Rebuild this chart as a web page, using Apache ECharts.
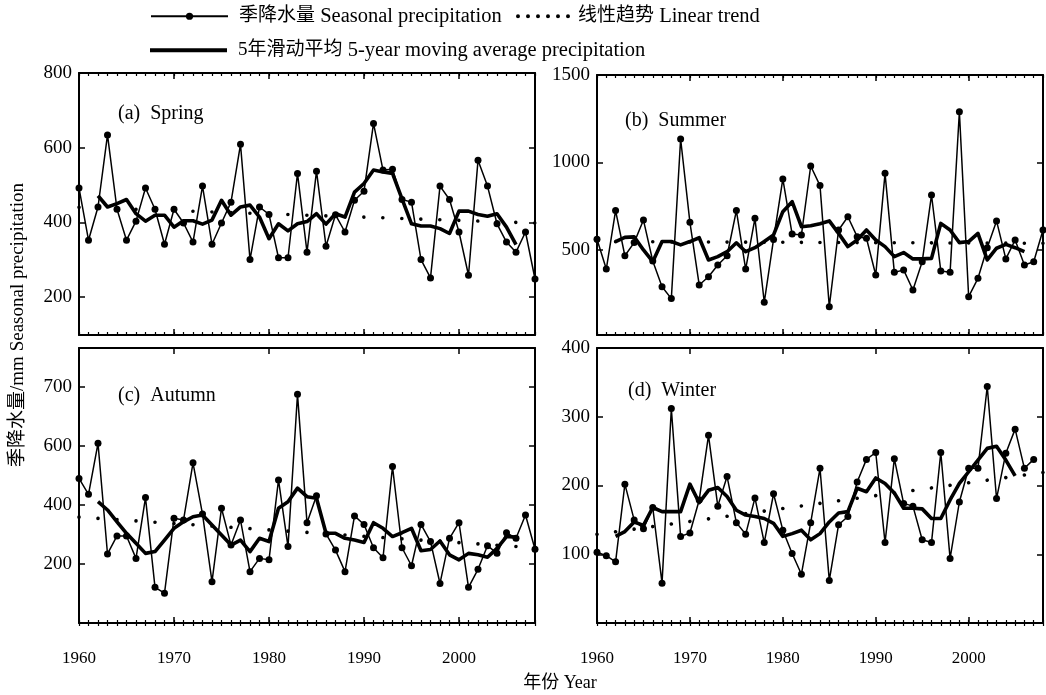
<!DOCTYPE html>
<html><head><meta charset="utf-8">
<script src="https://cdn.jsdelivr.net/npm/echarts@6/dist/echarts.min.js"></script>
<style>html,body{margin:0;padding:0;background:#fff}#c{width:1046px;height:695px}</style>
</head><body><div id="c"></div>
<script>
// ---------- data ----------
const years = [1960,1961,1962,1963,1964,1965,1966,1967,1968,1969,
               1970,1971,1972,1973,1974,1975,1976,1977,1978,1979,
               1980,1981,1982,1983,1984,1985,1986,1987,1988,1989,
               1990,1991,1992,1993,1994,1995,1996,1997,1998,1999,
               2000,2001,2002,2003,2004,2005,2006,2007,2008];
const maYears = years.slice(2, 47);          // 1962-2006
const maYearsWinter = years.slice(2, 46);    // 1962-2005

const springP = [492,352,441,634,435,352,403,492,435,341,
                 435,398,347,497,341,398,454,609,300,441,
                 421,305,305,531,320,537,336,420,374,459,
                 483,665,540,542,461,454,300,251,497,461,
                 374,258,566,497,396,347,320,374,248];
const summerP = [561,391,725,467,542,671,437,290,222,1134,
                 658,300,347,414,467,725,391,681,201,560,
                 906,591,586,980,868,176,614,690,576,567,
                 357,938,372,386,271,433,814,380,372,1290,
                 233,338,513,666,449,557,414,433,614];
const autumnP = [490,436,609,234,295,295,219,425,121,101,
                 355,349,543,369,140,389,264,349,174,219,
                 214,485,259,775,340,431,302,247,174,363,
                 334,255,221,530,255,194,334,276,134,287,
                 340,121,182,262,236,306,287,366,250];
const winterP = [103,98,89,202,150,137,168,58,312,126,
                 131,179,273,170,213,146,129,182,117,188,
                 135,101,71,146,225,62,143,155,205,238,
                 248,117,239,174,170,121,117,248,94,176,
                 225,225,344,181,247,282,225,238];

const springMA = [471,441,450,461,423,403,419,419,387,404,
                  404,395,406,459,419,441,446,414,356,396,
                  377,396,402,423,395,423,414,481,504,540,
                  535,531,463,396,390,390,383,370,430,430,
                  421,416,423,387,340];
const summerMA = [548,572,575,500,433,548,548,529,548,570,
                  443,462,490,541,490,513,548,586,719,776,
                  633,638,650,666,595,519,557,614,557,519,
                  462,485,449,449,452,652,614,542,548,595,
                  443,510,532,513,490];
const autumnMA = [411,383,343,304,270,236,242,281,321,343,
                  360,366,332,298,264,281,242,287,276,389,
                  411,457,428,423,304,304,287,281,273,340,
                  321,293,306,321,245,249,278,231,214,236,
                  231,223,253,293,291];
const winterMA = [126,133,147,142,168,162,162,162,202,175,
                  193,197,184,164,157,155,152,145,126,130,
                  135,121,130,147,160,162,196,191,211,203,
                  189,167,167,166,152,152,179,203,220,237,
                  254,257,237,214];

// linear trend end points [year, value]
const springTrend = [[1960,440],[2008,398]];
const summerTrend = [[1960,548],[2008,538]];
const autumnTrend = [[1960,359],[2008,255]];
const winterTrend = [[1960,129],[2008,219]];

const panelTitles = ['(a)  Spring','(b)  Summer','(c)  Autumn','(d)  Winter'];
const yTickValues = [[200,400,600,800],[500,1000,1500],[200,400,600,800],[100,200,300,400]];
const yTickLabels = [['200','400','600','800'],['500','1000','1500'],['200','400','600','700'],['100','200','300','400']];
const xTickLabels = ['1960','1970','1980','1990','2000'];

const nameP = '季降水量 Seasonal precipitation';
const nameT = '线性趋势 Linear trend';
const nameM = '5年滑动平均 5-year moving average precipitation';

// ---------- layout ----------
const FONT = '"Liberation Serif","Noto Sans CJK SC",serif';
const grids = [
  {left:79, top:73, width:456, height:262},
  {left:597, top:75, width:446, height:260},
  {left:79, top:348, width:456, height:275},
  {left:597, top:348, width:446, height:275}
];
const yRanges = [[98,800],[14,1500],[0,932],[0,400]];
const trendGap = [19.0, 18.58, 19.04, 18.76];

const panels = [
  {p:springP, m:springMA, my:maYears, t:springTrend},
  {p:summerP, m:summerMA, my:maYears, t:summerTrend},
  {p:autumnP, m:autumnMA, my:maYears, t:autumnTrend},
  {p:winterP, m:winterMA, my:maYearsWinter, t:winterTrend}
];

const xAxes = [], yAxes = [], series = [];
grids.forEach((g, gi) => {
  const showX = gi >= 2;
  const base = {gridIndex: gi, type: 'value', min: 1960, max: 2008, splitLine: {show: false}};
  xAxes.push(Object.assign({}, base, {
    position: 'bottom', interval: 10,
    axisLine: {show: true, onZero: false, lineStyle: {color: '#000', width: 2}},
    axisTick: {show: true, inside: true, length: 6, lineStyle: {color: '#000', width: 1.5}},
    axisLabel: {show: showX, margin: 27, color: '#000', fontFamily: FONT, fontSize: 17,
      formatter: v => xTickLabels.indexOf(String(v)) >= 0 ? String(v) : ''}
  }));
  xAxes.push(Object.assign({}, base, {
    position: 'bottom', interval: 1,
    axisLine: {show: false},
    axisTick: {show: true, inside: true, length: 3, lineStyle: {color: '#000', width: 1.2}},
    axisLabel: {show: false}
  }));
  xAxes.push(Object.assign({}, base, {
    position: 'top', interval: 10,
    axisLine: {show: true, onZero: false, lineStyle: {color: '#000', width: 2}},
    axisTick: {show: true, inside: true, length: 6, lineStyle: {color: '#000', width: 1.5}},
    axisLabel: {show: false}
  }));
  xAxes.push(Object.assign({}, base, {
    position: 'top', interval: 1,
    axisLine: {show: false},
    axisTick: {show: true, inside: true, length: 3, lineStyle: {color: '#000', width: 1.2}},
    axisLabel: {show: false}
  }));
  const ybase = {gridIndex: gi, type: 'value', min: yRanges[gi][0], max: yRanges[gi][1], splitLine: {show: false}};
  yAxes.push(Object.assign({}, ybase, {
    position: 'left',
    axisLine: {show: true, onZero: false, lineStyle: {color: '#000', width: 2}},
    axisTick: {show: true, inside: true, length: 6, customValues: yTickValues[gi], lineStyle: {color: '#000', width: 1.5}},
    axisLabel: {show: true, margin: 7, color: '#000', fontFamily: FONT, fontSize: 19,
      customValues: yTickValues[gi],
      formatter: v => { const k = yTickValues[gi].indexOf(v); return k >= 0 ? yTickLabels[gi][k] : ''; }}
  }));
  yAxes.push(Object.assign({}, ybase, {
    position: 'right',
    axisLine: {show: true, onZero: false, lineStyle: {color: '#000', width: 2}},
    axisTick: {show: true, inside: true, length: 6, customValues: yTickValues[gi], lineStyle: {color: '#000', width: 1.5}},
    axisLabel: {show: false}
  }));

  const P = panels[gi];
  const xi = gi * 4, yi = gi * 2;
  series.push({
    name: nameT, type: 'line', xAxisIndex: xi, yAxisIndex: yi,
    data: P.t, symbol: 'none', silent: true, z: 2,
    lineStyle: {color: '#000', width: 3.6, type: [0.01, trendGap[gi] - 0.01], cap: 'round'},
    itemStyle: {color: '#000'}
  });
  series.push({
    name: nameM, type: 'line', xAxisIndex: xi, yAxisIndex: yi,
    data: P.my.map((y, i) => [y, P.m[i]]), symbol: 'none', z: 3,
    lineStyle: {color: '#000', width: 3.6, join: 'round'},
    itemStyle: {color: '#000'}
  });
  series.push({
    name: nameP, type: 'line', xAxisIndex: xi, yAxisIndex: yi,
    data: years.slice(0, P.p.length).map((y, i) => [y, P.p[i]]),
    symbol: 'circle', symbolSize: 7, showAllSymbol: true, z: 4,
    lineStyle: {color: '#000', width: 1.5},
    itemStyle: {color: '#000'}
  });
});

const legendRich = {
  c: {fontFamily: FONT, fontSize: 19, color: '#000'},
  l: {fontFamily: FONT, fontSize: 20.5, color: '#000'}
};
const legendFmt = name => {
  const k = name.indexOf(' ');
  return '{c|' + name.slice(0, k) + '}{l| ' + name.slice(k + 1) + '}';
};
const option = {
  animation: false,
  backgroundColor: '#fff',
  grid: grids.map(g => Object.assign({containLabel: false}, g)),
  xAxis: xAxes,
  yAxis: yAxes,
  series: series,
  legend: [
    {left: 145, top: 1, itemWidth: 77, itemHeight: 9, selectedMode: false, formatter: legendFmt,
     textStyle: {padding: [0,0,0,6], rich: legendRich}, data: [{name: nameP}]},
    {left: 511, top: 1, itemWidth: 54, itemHeight: 4, selectedMode: false, formatter: legendFmt,
     textStyle: {padding: [0,0,0,3], rich: legendRich},
     data: [{name: nameT, icon: 'path://M0,2a2,2 0 1,0 4,0a2,2 0 1,0 -4,0M10,2a2,2 0 1,0 4,0a2,2 0 1,0 -4,0M20,2a2,2 0 1,0 4,0a2,2 0 1,0 -4,0M30,2a2,2 0 1,0 4,0a2,2 0 1,0 -4,0M40,2a2,2 0 1,0 4,0a2,2 0 1,0 -4,0M50,2a2,2 0 1,0 4,0a2,2 0 1,0 -4,0'}]},
    {left: 145, top: 35, itemWidth: 77, itemHeight: 4, selectedMode: false, formatter: legendFmt,
     textStyle: {padding: [0,0,0,6], rich: legendRich},
     data: [{name: nameM, icon: 'rect'}]}
  ],
  graphic: [
    {type: 'text', x: 118, y: 114, silent: true, style: {text: panelTitles[0], font: '20px ' + FONT, fill: '#000', verticalAlign: 'middle'}},
    {type: 'text', x: 625, y: 121, silent: true, style: {text: panelTitles[1], font: '20px ' + FONT, fill: '#000', verticalAlign: 'middle'}},
    {type: 'text', x: 118, y: 396, silent: true, style: {text: panelTitles[2], font: '20px ' + FONT, fill: '#000', verticalAlign: 'middle'}},
    {type: 'text', x: 628, y: 391, silent: true, style: {text: panelTitles[3], font: '20px ' + FONT, fill: '#000', verticalAlign: 'middle'}},
    {type: 'text', x: 560, y: 683, silent: true, style: {text: '年份 Year', font: '18px ' + FONT, fill: '#000', align: 'center', verticalAlign: 'middle'}},
    {type: 'text', x: 18, y: 325, rotation: Math.PI / 2, silent: true, style: {text: '季降水量/mm Seasonal precipitation', font: '19px ' + FONT, fill: '#000', align: 'center', verticalAlign: 'middle'}}
  ]
};
const chart = echarts.init(document.getElementById('c'), null, {renderer: 'canvas'});
chart.setOption(option);
</script></body></html>
